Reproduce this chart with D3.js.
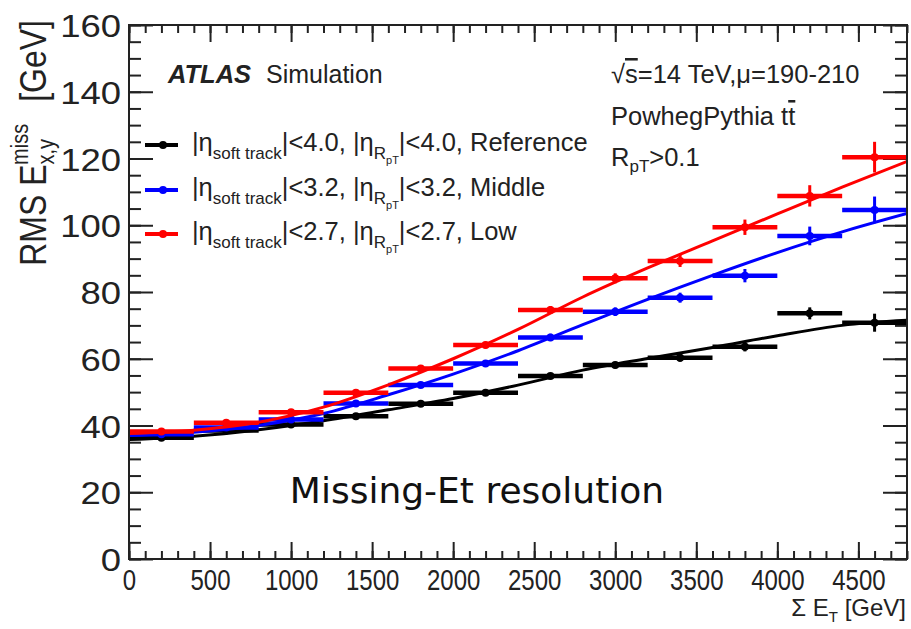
<!DOCTYPE html>
<html><head><meta charset="utf-8">
<script src="https://cdn.jsdelivr.net/npm/d3@7"></script>
<style>body{margin:0;background:#fff} svg{display:block}</style>
</head><body>
<svg id="c" width="911" height="629"></svg>
<script>
// ---------- data ----------
const binCenters = [200,600,1000,1400,1800,2200,2600,3000,3400,3800,4200,4600];
const binHalfWidth = 200;
const refValues = [36.3,38.5,40.3,42.8,46.5,49.8,54.8,58.1,60.3,63.6,73.6,70.8];
const refErrors = [0.5,0.5,0.6,0.6,0.7,0.8,0.9,1.0,1.2,1.4,1.8,2.7];
const midValues = [37.4,39.4,41.8,46.6,52.1,58.6,66.4,74.1,78.3,84.9,96.8,104.6];
const midErrors = [0.5,0.5,0.6,0.7,0.8,0.9,1.1,1.3,1.5,2.0,2.8,4.0];
const lowValues = [38.2,40.8,44.0,49.8,57.1,64.1,74.6,84.1,89.3,99.4,108.8,120.4];
const lowErrors = [0.5,0.6,0.7,0.8,0.9,1.0,1.2,1.5,1.8,2.3,3.2,4.6];
const fitX   = [0,400,800,1200,1600,2000,2400,2800,3200,3600,4000,4400,4800];
const refFit = [35.8,36.8,38.7,41.4,44.7,48.1,52.1,56.6,60.1,63.4,66.9,70.0,71.5];
const midFit = [37.0,38.0,40.0,43.6,49.2,55.4,62.4,70.2,77.8,85.0,91.8,98.0,103.5];
const lowFit = [37.6,38.6,41.0,45.5,52.2,60.0,68.8,78.5,87.2,95.3,103.4,111.4,119.1];
const xTicks = [0,500,1000,1500,2000,2500,3000,3500,4000,4500];
const yTicks = [0,20,40,60,80,100,120,140,160];
const seriesNames = ["Reference","Middle","Low"];
const seriesCuts = ["4.0","3.2","2.7"];
const seriesColors = ["#000000","#0000ff","#ff0000"];

// ---------- layout ----------
const W = 911, H = 629;
const L = 129, R = 907, T = 25, B = 559;
const FONT = "'Liberation Sans', Arial, sans-serif";
const svg = d3.select("#c");
const x = d3.scaleLinear().domain([0,4800]).range([L,R]);
const y = d3.scaleLinear().domain([0,160]).range([B,T]);

svg.append("rect").attr("width",W).attr("height",H).attr("fill","#fff");
svg.append("clipPath").attr("id","clip").append("rect")
  .attr("x",L).attr("y",T).attr("width",R-L).attr("height",B-T);

// ---------- axes ----------
const minorX = d3.range(0,4801,100);
const minorY = d3.range(0,161,5);
function styleAxis(g){ g.select(".domain").remove(); g.selectAll("line").attr("stroke","#222").attr("stroke-width",2); }

svg.append("g").attr("transform",`translate(0,${B})`)
  .call(d3.axisBottom(x).tickValues(minorX).tickSizeInner(-8).tickSizeOuter(0).tickFormat(""))
  .call(styleAxis);
const bx = svg.append("g").attr("transform",`translate(0,${B})`)
  .call(d3.axisBottom(x).tickValues(xTicks).tickSizeInner(-17).tickSizeOuter(0).tickFormat(d3.format("d")))
  .call(styleAxis);
bx.selectAll("text").attr("font-family",FONT).attr("font-size",30).attr("fill","#222")
  .attr("transform","scale(0.8,1)").attr("x",0).attr("dy","0").attr("y",31);
svg.append("g").attr("transform",`translate(0,${T})`)
  .call(d3.axisTop(x).tickValues(minorX).tickSizeInner(-8).tickSizeOuter(0).tickFormat(""))
  .call(styleAxis);
svg.append("g").attr("transform",`translate(0,${T})`)
  .call(d3.axisTop(x).tickValues(xTicks).tickSizeInner(-17).tickSizeOuter(0).tickFormat(""))
  .call(styleAxis);
svg.append("g").attr("transform",`translate(${L},0)`)
  .call(d3.axisLeft(y).tickValues(minorY).tickSizeInner(-12).tickSizeOuter(0).tickFormat(""))
  .call(styleAxis);
const ly = svg.append("g").attr("transform",`translate(${L},0)`)
  .call(d3.axisLeft(y).tickValues(yTicks).tickSizeInner(-24).tickSizeOuter(0).tickFormat(d3.format("d")))
  .call(styleAxis);
ly.selectAll("text").attr("font-family",FONT).attr("font-size",32).attr("fill","#222")
  .attr("text-anchor","end").attr("x",-7).attr("dy","0.36em")
  .attr("transform","scale(1.14,1)");
svg.append("g").attr("transform",`translate(${R},0)`)
  .call(d3.axisRight(y).tickValues(minorY).tickSizeInner(-12).tickSizeOuter(0).tickFormat(""))
  .call(styleAxis);
svg.append("g").attr("transform",`translate(${R},0)`)
  .call(d3.axisRight(y).tickValues(yTicks).tickSizeInner(-24).tickSizeOuter(0).tickFormat(""))
  .call(styleAxis);

// ---------- series ----------
const plot = svg.append("g").attr("clip-path","url(#clip)");
const series = [
  {vals: refValues, errs: refErrors, fit: refFit},
  {vals: midValues, errs: midErrors, fit: midFit},
  {vals: lowValues, errs: lowErrors, fit: lowFit}
];
const line = d3.line().x(d=>x(d[0])).y(d=>y(d[1])).curve(d3.curveMonotoneX);
series.forEach((s,i)=>{
  const c = seriesColors[i];
  const g = plot.append("g");
  const pts = binCenters.map((b,k)=>({x:b,v:s.vals[k],e:s.errs[k]}));
  g.selectAll("line.h").data(pts).join("line")
    .attr("x1",d=>x(d.x-binHalfWidth)).attr("x2",d=>x(d.x+binHalfWidth))
    .attr("y1",d=>y(d.v)).attr("y2",d=>y(d.v))
    .attr("stroke",c).attr("stroke-width",4.5);
  g.selectAll("line.v").data(pts).join("line")
    .attr("x1",d=>x(d.x)).attr("x2",d=>x(d.x))
    .attr("y1",d=>y(d.v-d.e)).attr("y2",d=>y(d.v+d.e))
    .attr("stroke",c).attr("stroke-width",3);
  g.selectAll("circle").data(pts).join("circle")
    .attr("cx",d=>x(d.x)).attr("cy",d=>y(d.v)).attr("r",4).attr("fill",c);
  g.append("path").datum(fitX.map((fx,k)=>[fx,s.fit[k]]))
    .attr("d",line).attr("fill","none").attr("stroke",c).attr("stroke-width",3);
});

// ---------- texts ----------
function txt(xp,yp,size,opts={}){
  const t = svg.append("text").attr("x",xp).attr("y",yp).attr("font-family",FONT)
    .attr("font-size",size).attr("fill",opts.fill||"#222");
  if(opts.weight) t.attr("font-weight",opts.weight);
  if(opts.style) t.attr("font-style",opts.style);
  if(opts.anchor) t.attr("text-anchor",opts.anchor);
  return t;
}
txt(168,83,25.5,{weight:"bold",style:"italic"}).text("ATLAS");
txt(266,83,25).text("Simulation");

const t1 = txt(611,83,25.5);
t1.append("tspan").text("\u221A");
t1.append("tspan").attr("text-decoration","overline").text("s");
t1.append("tspan").text("=14 TeV,\u03BC=190-210");
const t2 = txt(611,125,25.5);
t2.append("tspan").text("PowhegPythia t");
t2.append("tspan").attr("text-decoration","overline").text("t");
const t3 = txt(611,166,25.5);
t3.append("tspan").text("R");
t3.append("tspan").attr("font-size",17).attr("dy",6).text("pT");
t3.append("tspan").attr("dy",-6).text(">0.1");

const legY = [145,190,234];
seriesNames.forEach((nm,i)=>{
  const c = seriesColors[i], yy = legY[i];
  svg.append("line").attr("x1",145).attr("x2",178).attr("y1",yy).attr("y2",yy)
    .attr("stroke",c).attr("stroke-width",4);
  svg.append("circle").attr("cx",163).attr("cy",yy).attr("r",4).attr("fill",c);
  const t = txt(192,yy+6,25.5);
  t.append("tspan").text("|\u03B7");
  t.append("tspan").attr("font-size",17).attr("dy",8).text("soft track");
  t.append("tspan").attr("dy",-8).text(`|<${seriesCuts[i]}, |\u03B7`);
  t.append("tspan").attr("font-size",17).attr("dy",8).text("R");
  t.append("tspan").attr("font-size",11).attr("dy",5).text("pT");
  t.append("tspan").attr("dy",-13).text(`|<${seriesCuts[i]}, ${nm}`);
});

svg.append("text").attr("x",477).attr("y",503).attr("text-anchor","middle")
  .attr("font-family","'DejaVu Sans', sans-serif").attr("font-size",36)
  .attr("fill","#111").text("Missing-Et resolution");

const xt = txt(906,616,24,{anchor:"end"});
xt.append("tspan").text("\u03A3 E");
xt.append("tspan").attr("font-size",15).attr("dy",6).text("T");
xt.append("tspan").attr("dy",-6).text(" [GeV]");

const yt = svg.append("text").attr("transform","translate(46,20) scale(1.15,1) rotate(-90)")
  .attr("text-anchor","end").attr("font-family",FONT).attr("font-size",32).attr("fill","#222");
yt.append("tspan").text("RMS E");
yt.append("tspan").attr("font-size",20).attr("dy",7).text("x,y");
yt.append("tspan").attr("font-size",20).attr("dx",-26).attr("dy",-23).text("miss");
yt.append("tspan").attr("dy",16).attr("dx",22).text("[GeV]");

svg.append("rect").attr("x",L).attr("y",T).attr("width",R-L).attr("height",B-T)
  .attr("fill","none").attr("stroke","#222").attr("stroke-width",2);
</script>
</body></html>
